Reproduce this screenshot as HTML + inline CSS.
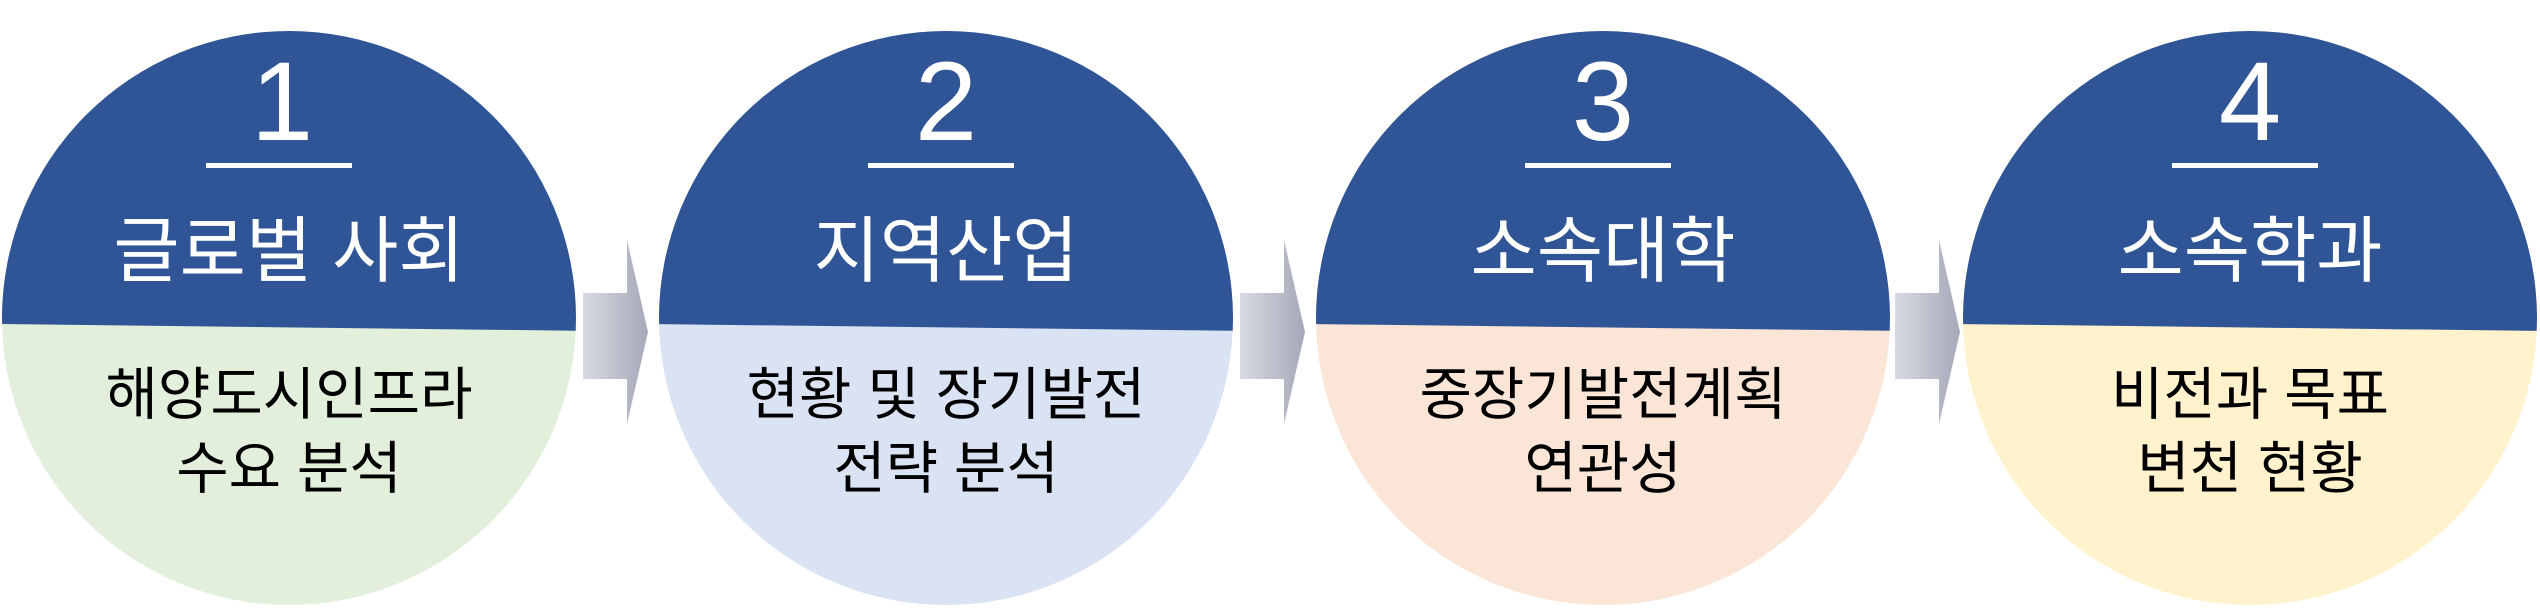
<!DOCTYPE html>
<html><head><meta charset="utf-8"><style>
html,body{margin:0;padding:0;background:#fff;}
svg{display:block}
text{font-family:"Liberation Sans","Noto Sans CJK KR",sans-serif;text-anchor:middle}
</style></head><body>
<svg width="2540" height="614" viewBox="0 0 2540 614" xmlns="http://www.w3.org/2000/svg">
<defs>
<linearGradient id="ag" x1="0" y1="0" x2="1" y2="0"><stop offset="0" stop-color="#d9dbe2"/><stop offset="1" stop-color="#a4a8b8"/></linearGradient>
<clipPath id="c1"><circle cx="289" cy="318" r="287"/></clipPath>
<clipPath id="c2"><circle cx="946" cy="318" r="287"/></clipPath>
<clipPath id="c3"><circle cx="1603" cy="318" r="287"/></clipPath>
<clipPath id="c4"><circle cx="2250" cy="318" r="287"/></clipPath>
</defs>
<g fill="url(#ag)">
<polygon points="583,293 627,293 627,240 648,332 627,424 627,379 583,379"/>
<polygon points="1240,293 1284,293 1284,240 1305,332 1284,424 1284,379 1240,379"/>
<polygon points="1895,293 1939,293 1939,240 1960,332 1939,424 1939,379 1895,379"/>
</g>
<g clip-path="url(#c1)"><rect x="0" y="0" width="600" height="614" fill="#E2EFDA"/><polygon points="0,0 600,0 600,331 0,324" fill="#2F5597"/></g>
<g clip-path="url(#c2)"><rect x="650" y="0" width="600" height="614" fill="#DAE3F3"/><polygon points="650,0 1250,0 1250,331 650,324" fill="#2F5597"/></g>
<g clip-path="url(#c3)"><rect x="1310" y="0" width="600" height="614" fill="#FBE5D6"/><polygon points="1310,0 1910,0 1910,331 1310,324" fill="#2F5597"/></g>
<g clip-path="url(#c4)"><rect x="1955" y="0" width="590" height="614" fill="#FFF2CC"/><polygon points="1955,0 2545,0 2545,331 1955,324" fill="#2F5597"/></g>

<g fill="#fff">
<text x="282" y="140" font-size="112">1</text>
<text x="946" y="140" font-size="112">2</text>
<text x="1603" y="140" font-size="112">3</text>
<text x="2250" y="140" font-size="112">4</text>
<rect x="206" y="163" width="146" height="5"/>
<rect x="868" y="163" width="146" height="5"/>
<rect x="1525" y="163" width="146" height="5"/>
<rect x="2172" y="163" width="146" height="5"/>
<text x="289" y="276" font-size="72">글로벌 사회</text>
<text x="946" y="276" font-size="72">지역산업</text>
<text x="1603" y="276" font-size="72">소속대학</text>
<text x="2250" y="276" font-size="72">소속학과</text>
</g>
<g fill="#000" font-size="57">
<text x="289" y="414">해양도시인프라</text>
<text x="289" y="488">수요 분석</text>
<text x="946" y="414">현황 및 장기발전</text>
<text x="946" y="488">전략 분석</text>
<text x="1603" y="414">중장기발전계획</text>
<text x="1603" y="488">연관성</text>
<text x="2250" y="414">비전과 목표</text>
<text x="2250" y="488">변천 현황</text>
</g>
</svg>
</body></html>
